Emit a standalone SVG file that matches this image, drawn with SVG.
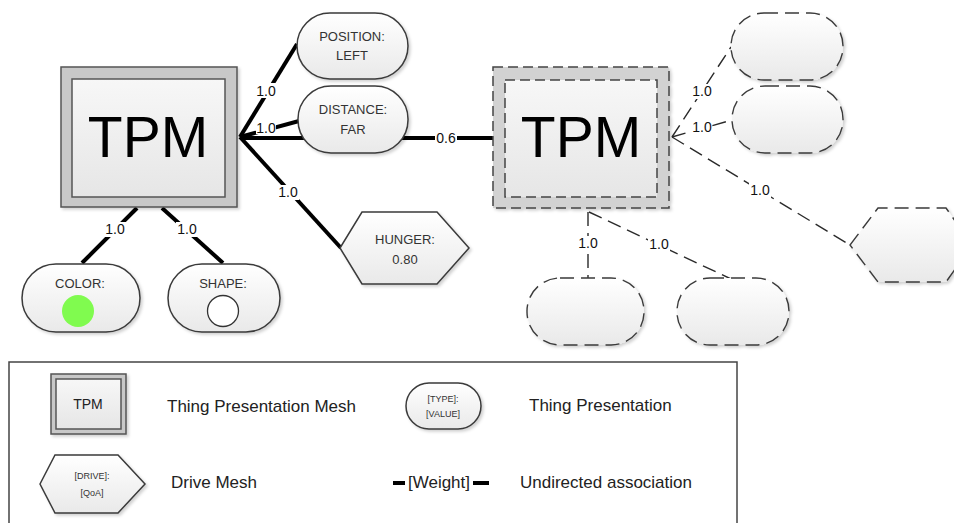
<svg xmlns="http://www.w3.org/2000/svg" width="954" height="523" viewBox="0 0 954 523">
  <defs>
    <linearGradient id="nodeFill" x1="0" y1="0" x2="0" y2="1">
      <stop offset="0" stop-color="#ffffff"/>
      <stop offset="1" stop-color="#e9e9e9"/>
    </linearGradient>
    <linearGradient id="meshFill" x1="0" y1="0" x2="0" y2="1">
      <stop offset="0" stop-color="#f7f7f7"/>
      <stop offset="1" stop-color="#e6e6e6"/>
    </linearGradient>
    <filter id="shadow" x="-10%" y="-10%" width="125%" height="130%">
      <feDropShadow dx="2" dy="2" stdDeviation="1.5" flood-color="#000" flood-opacity="0.18"/>
    </filter>
  </defs>
  <style>
    .node { fill: url(#nodeFill); stroke: #3a3a3a; stroke-width: 1.5; filter: url(#shadow); }
    .ghost { fill: url(#nodeFill); stroke: #3a3a3a; stroke-width: 1.4; stroke-dasharray: 14 7; filter: url(#shadow); }
    .mesh-outer { fill: #c8c8c8; stroke: #555; stroke-width: 1.5; filter: url(#shadow); }
    .mesh-inner { fill: url(#meshFill); stroke: #555; stroke-width: 1.5; }
    .ghost-outer { fill: #d2d2d2; stroke: #444; stroke-width: 1.5; stroke-dasharray: 10 5; filter: url(#shadow); }
    .ghost-inner { fill: url(#meshFill); stroke: #444; stroke-width: 1.5; stroke-dasharray: 10 5; }
    .strong { stroke: #000; stroke-width: 4; fill: none; }
    .weak { stroke: #2a2a2a; stroke-width: 1.4; fill: none; stroke-dasharray: 14 7; }
    .lbl-bg { fill: #fff; }
    text { font-family: "Liberation Sans", Arial, sans-serif; text-anchor: middle; dominant-baseline: central; }
    .big { font-size: 57px; fill: #000; }
    .ntxt { font-size: 13px; fill: #333; }
    .wt { font-size: 14px; fill: #111; }
    .legend { font-size: 17px; fill: #222; text-anchor: start; }
    .tiny { font-size: 9px; fill: #333; }
  </style>

  <!-- associations -->
  <g id="connectors">
    <line class="strong" x1="240" y1="137" x2="297" y2="44"/>
    <line class="strong" x1="240" y1="137" x2="299" y2="121"/>
    <line class="strong" x1="240" y1="138" x2="493" y2="138"/>
    <line class="strong" x1="240" y1="137" x2="341" y2="248"/>
    <line class="strong" x1="137" y1="208" x2="82" y2="263"/>
    <line class="strong" x1="162" y1="208" x2="223" y2="263"/>

    <line class="weak" x1="672" y1="137" x2="731" y2="47"/>
    <line class="weak" x1="672" y1="137" x2="732" y2="120"/>
    <line class="weak" x1="672" y1="137" x2="850" y2="245"/>
    <line class="weak" x1="588" y1="212" x2="588" y2="278"/>
    <line class="weak" x1="589" y1="212" x2="731" y2="279"/>

    <!-- weight labels -->
    <g>
      <rect class="lbl-bg" x="255" y="83" width="22" height="15"/>
      <text class="wt" x="266" y="91">1.0</text>
      <rect class="lbl-bg" x="256" y="122" width="20" height="12"/>
      <text class="wt" x="266" y="128">1.0</text>
      <rect class="lbl-bg" x="435" y="131" width="22" height="14"/>
      <text class="wt" x="446" y="138">0.6</text>
      <rect class="lbl-bg" x="277" y="185" width="22" height="15"/>
      <text class="wt" x="288" y="192">1.0</text>
      <rect class="lbl-bg" x="104" y="222" width="22" height="15"/>
      <text class="wt" x="115" y="229">1.0</text>
      <rect class="lbl-bg" x="176" y="222" width="22" height="15"/>
      <text class="wt" x="187" y="229">1.0</text>

      <rect class="lbl-bg" x="691" y="84" width="22" height="15"/>
      <text class="wt" x="702" y="91">1.0</text>
      <rect class="lbl-bg" x="692" y="121" width="20" height="12"/>
      <text class="wt" x="702" y="127">1.0</text>
      <rect class="lbl-bg" x="749" y="183" width="22" height="15"/>
      <text class="wt" x="760" y="190">1.0</text>
      <rect class="lbl-bg" x="577" y="236" width="22" height="15"/>
      <text class="wt" x="588" y="243">1.0</text>
      <rect class="lbl-bg" x="648" y="237" width="22" height="15"/>
      <text class="wt" x="659" y="244">1.0</text>
    </g>
  </g>

  <!-- thing presentation mesh -->
  <g id="tpm-main">
    <rect class="mesh-outer" x="61" y="67" width="176" height="140"/>
    <rect class="mesh-inner" x="72" y="79" width="153" height="118"/>
    <text class="big" x="148" y="137">TPM</text>
  </g>

  <g id="tp-position">
    <rect class="node" x="297" y="13" width="111" height="66" rx="33"/>
    <text class="ntxt" x="352" y="36">POSITION:</text>
    <text class="ntxt" x="352" y="55">LEFT</text>
  </g>

  <g id="tp-distance">
    <rect class="node" x="298" y="86" width="110" height="67" rx="33"/>
    <text class="ntxt" x="353" y="109">DISTANCE:</text>
    <text class="ntxt" x="353" y="129">FAR</text>
  </g>

  <g id="dm-hunger">
    <polygon class="node" points="340,248 362,212 437,212 469,248 437,284 362,284"/>
    <text class="ntxt" x="405" y="239">HUNGER:</text>
    <text class="ntxt" x="405" y="259">0.80</text>
  </g>

  <g id="tp-color">
    <rect class="node" x="22" y="264" width="118" height="68" rx="34"/>
    <text class="ntxt" x="80" y="283">COLOR:</text>
    <circle cx="78" cy="311" r="16" fill="#80fb4f"/>
  </g>

  <g id="tp-shape">
    <rect class="node" x="168" y="264" width="112" height="68" rx="34"/>
    <text class="ntxt" x="223" y="283">SHAPE:</text>
    <circle cx="223" cy="311" r="15.5" fill="#fff" stroke="#333" stroke-width="1.3"/>
  </g>

  <!-- associated mesh (dashed) -->
  <g id="tpm-other">
    <rect class="ghost-outer" x="493" y="67" width="176" height="141"/>
    <rect class="ghost-inner" x="505" y="80" width="152" height="117"/>
    <text class="big" x="581" y="137">TPM</text>
  </g>

  <g id="tp-other-1">
    <rect class="ghost" x="731" y="13" width="112" height="67" rx="33"/>
  </g>
  <g id="tp-other-2">
    <rect class="ghost" x="732" y="86" width="111" height="67" rx="33"/>
  </g>
  <g id="dm-other">
    <polygon class="ghost" points="850,245 878,208 946,208 972,245 946,282 878,282"/>
  </g>
  <g id="tp-other-3">
    <rect class="ghost" x="527" y="278" width="117" height="67" rx="33"/>
  </g>
  <g id="tp-other-4">
    <rect class="ghost" x="677" y="278" width="112" height="67" rx="33"/>
  </g>

  <!-- key -->
  <g id="legend">
    <rect x="9" y="362" width="728" height="175" fill="#fff" stroke="#444" stroke-width="1.5"/>

    <rect class="mesh-outer" x="51" y="374" width="75" height="60"/>
    <rect class="mesh-inner" x="56" y="379" width="65" height="50" stroke-width="1.2"/>
    <text x="88" y="404" font-size="14" fill="#222">TPM</text>
    <text class="legend" x="167" y="406">Thing Presentation Mesh</text>

    <rect class="node" x="406" y="383" width="75" height="46" rx="23" stroke-width="1.2"/>
    <text class="tiny" x="443" y="399">[TYPE]:</text>
    <text class="tiny" x="443" y="414">[VALUE]</text>
    <text class="legend" x="529" y="405">Thing Presentation</text>

    <polygon class="node" points="40,484 55,455 118,455 145,484 118,513 55,513" stroke-width="1.2"/>
    <text class="tiny" x="92" y="476">[DRIVE]:</text>
    <text class="tiny" x="92" y="493">[QoA]</text>
    <text class="legend" x="171" y="482">Drive Mesh</text>

    <line class="strong" x1="393" y1="483" x2="405" y2="483"/>
    <text x="439" y="482" font-size="17" fill="#222">[Weight]</text>
    <line class="strong" x1="473" y1="483" x2="489" y2="483"/>
    <text class="legend" x="520" y="482">Undirected association</text>
  </g>
</svg>
